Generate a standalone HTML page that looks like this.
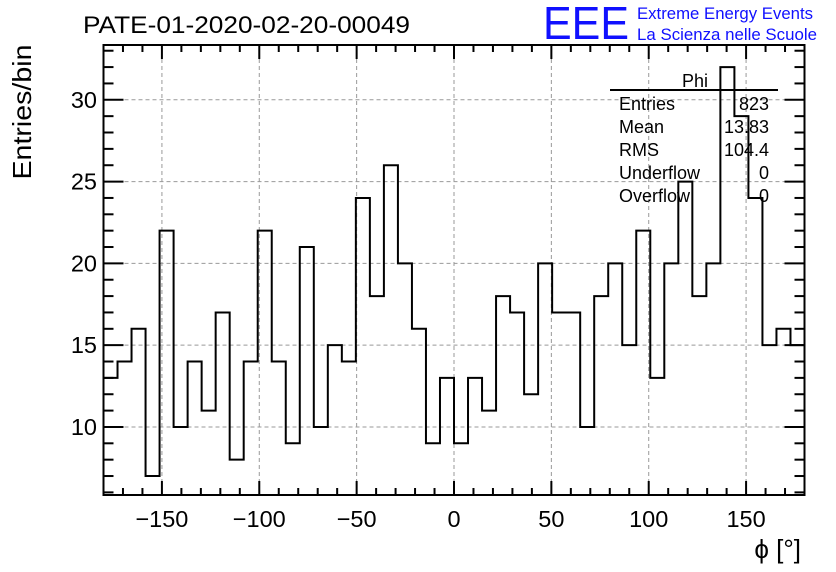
<!DOCTYPE html>
<html><head><meta charset="utf-8"><style>
body{margin:0;background:#fff;}
svg{display:block;font-family:"Liberation Sans",sans-serif;}
</style></head><body>
<svg id="c" width="836" height="572">
<text x="83" y="33" font-size="24" textLength="327" lengthAdjust="spacingAndGlyphs">PATE-01-2020-02-20-00049</text>
<text x="543" y="39" font-size="46" fill="#1010ff" textLength="86" lengthAdjust="spacingAndGlyphs">EEE</text>
<text x="637" y="19" font-size="16.5" fill="#1010ff" textLength="176" lengthAdjust="spacingAndGlyphs">Extreme Energy Events</text>
<text x="637" y="40" font-size="16.5" fill="#1010ff" textLength="180" lengthAdjust="spacingAndGlyphs">La Scienza nelle Scuole</text>
<text transform="translate(31,112) rotate(-90)" text-anchor="middle" font-size="26" textLength="135" lengthAdjust="spacingAndGlyphs">Entries/bin</text>
<text x="801" y="558" text-anchor="end" font-size="26">ϕ [°]</text>
<g id="grid"></g><g id="hist"></g><g id="ticks"></g>
<rect x="103.5" y="45" width="701" height="450" fill="none" stroke="#000" stroke-width="2"/>
<g font-size="18">
<rect x="610" y="64" width="168" height="145" fill="none"/>
<text x="708" y="87" text-anchor="end">Phi</text>
<line x1="610" y1="90" x2="778" y2="90" stroke="#000" stroke-width="2"/>
<text x="619" y="110">Entries</text><text x="769" y="110" text-anchor="end">823</text>
<text x="619" y="133">Mean</text><text x="769" y="133" text-anchor="end">13.83</text>
<text x="619" y="156">RMS</text><text x="769" y="156" text-anchor="end">104.4</text>
<text x="619" y="179">Underflow</text><text x="769" y="179" text-anchor="end">0</text>
<text x="619" y="202">Overflow</text><text x="769" y="202" text-anchor="end">0</text>
</g>
</svg>
<script>
const counts=[13,14,16,7,22,10,14,11,17,8,14,22,14,9,21,10,15,14,24,18,26,20,16,9,13,9,13,11,18,17,12,20,17,17,10,18,20,15,22,13,20,25,18,20,32,29,24,15,16,15];
const xTicks=[-150,-100,-50,0,50,100,150];
const yTicks=[10,15,20,25,30];
const xMin=-180,xMax=180,yMin=5.84,yMax=33.35;
const L=103.5,R=804.5,T=45,B=495;
const NS='http://www.w3.org/2000/svg';
function X(v){return L+(v-xMin)/(xMax-xMin)*(R-L);}
function Y(v){return B-(v-yMin)/(yMax-yMin)*(B-T);}
function mk(tag,a,parent){const e=document.createElementNS(NS,tag);for(const k in a)e.setAttribute(k,a[k]);document.getElementById(parent).appendChild(e);return e;}
xTicks.forEach(v=>{const e=mk('line',{x1:X(v),x2:X(v),y1:T,y2:B,stroke:'#999','stroke-dasharray':'4,3'},'grid');

});
yTicks.forEach(v=>{const e=mk('line',{x1:L,x2:R,y1:Y(v),y2:Y(v),stroke:'#999','stroke-dasharray':'4,3'},'grid');

});
const w=(xMax-xMin)/counts.length;
let d='M'+X(xMin)+' '+Y(counts[0]);
counts.forEach((c,i)=>{d+=' H'+X(xMin+(i+1)*w);if(i+1<counts.length)d+=' V'+Y(counts[i+1]);});
const h=mk('path',{d:d,fill:'none',stroke:'#000','stroke-width':2},'hist');


for(let v=-180;v<=180;v+=10){const maj=v%50===0;const len=maj?14:7;
mk('line',{x1:X(v),x2:X(v),y1:B,y2:B-len,stroke:'#000','stroke-width':2},'ticks');
mk('line',{x1:X(v),x2:X(v),y1:T,y2:T+len,stroke:'#000','stroke-width':2},'ticks');}
xTicks.forEach(v=>{const t=mk('text',{x:X(v),y:527,'text-anchor':'middle','font-size':23.5},'ticks');t.textContent=(v<0?'\u2212'+(-v):v);

});
for(let v=6;v<=33;v++){const maj=v%5===0;const len=maj?20:10;
mk('line',{x1:L,x2:L+len,y1:Y(v),y2:Y(v),stroke:'#000','stroke-width':2},'ticks');
mk('line',{x1:R,x2:R-len,y1:Y(v),y2:Y(v),stroke:'#000','stroke-width':2},'ticks');}
yTicks.forEach(v=>{const t=mk('text',{x:97,y:Y(v)+8,'text-anchor':'end','font-size':23.5},'ticks');t.textContent=v;

});
</script>
</body></html>
